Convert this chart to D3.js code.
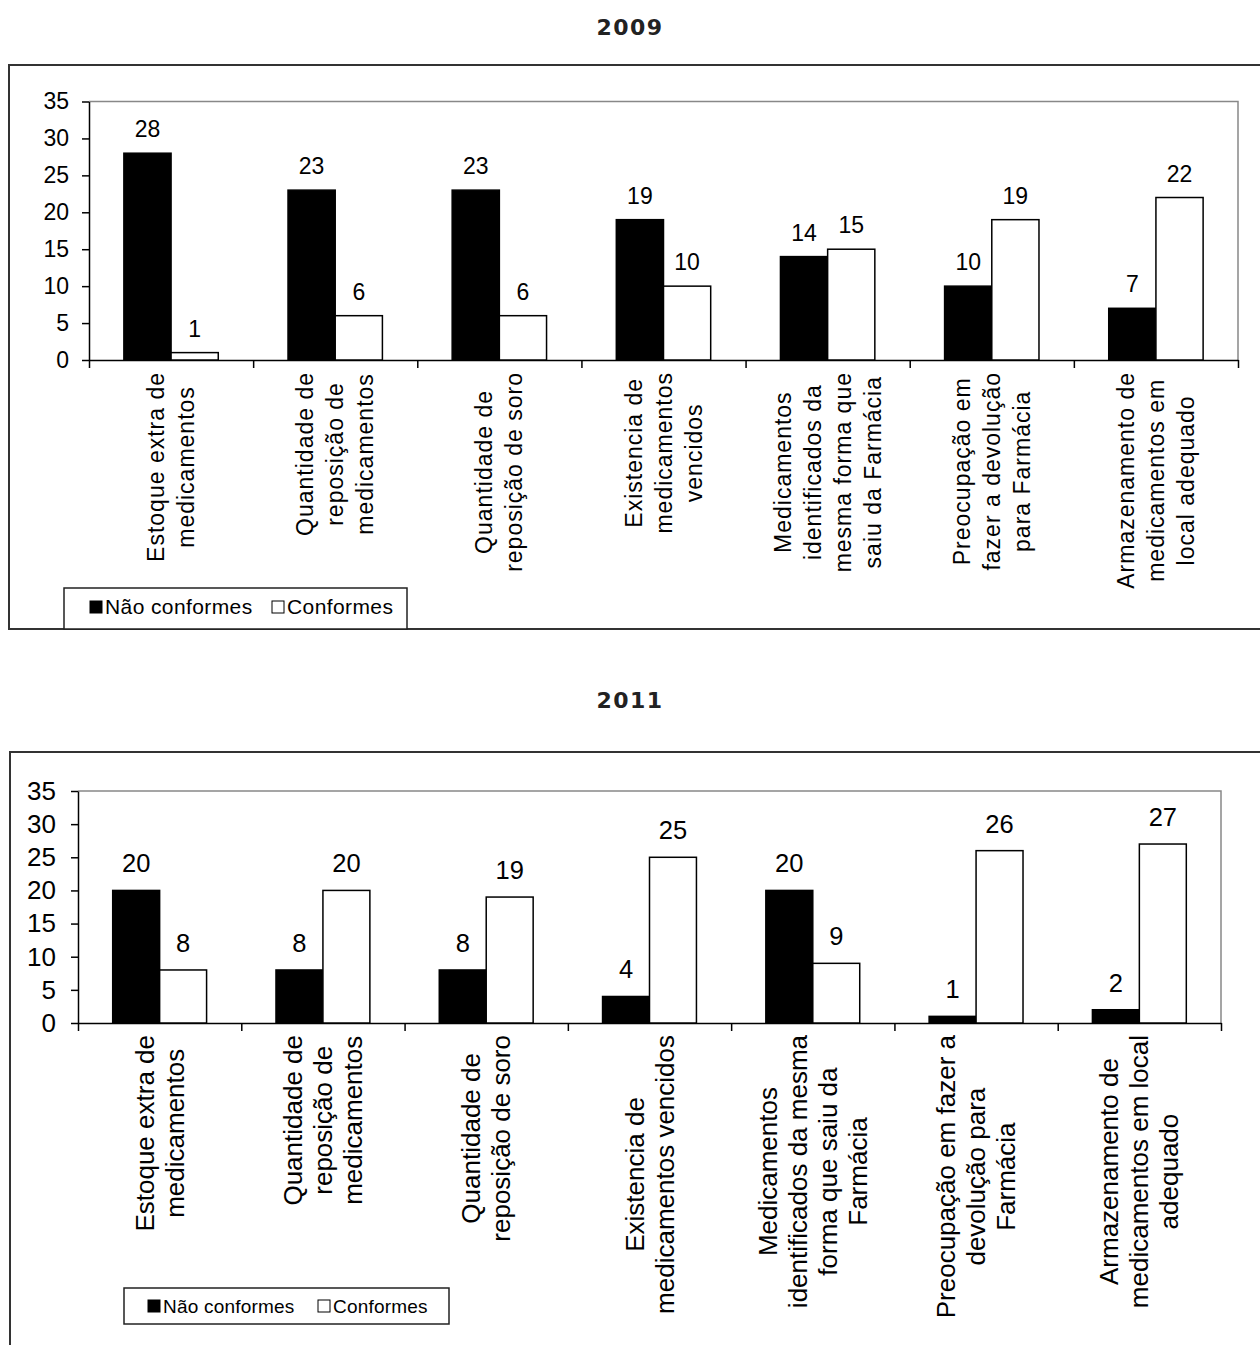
<!DOCTYPE html>
<html>
<head>
<meta charset="utf-8">
<script src="https://cdn.jsdelivr.net/npm/d3@7"></script>
<style>
  body { margin: 0; background: #fff; }
  svg { display: block; }
</style>
</head>
<body>
<div id="chart"></div>
<script>
// data
const seriesNames = ["Não conformes", "Conformes"];
const yTicks = [0, 5, 10, 15, 20, 25, 30, 35];

const categories2009 = [
    ["Estoque extra de", "medicamentos"],
    ["Quantidade de", "reposição de", "medicamentos"],
    ["Quantidade de", "reposição de soro"],
    ["Existencia de", "medicamentos", "vencidos"],
    ["Medicamentos", "identificados da", "mesma forma que", "saiu da Farmácia"],
    ["Preocupação em", "fazer a devolução", "para Farmácia"],
    ["Armazenamento  de", "medicamentos em", "local adequado"]
];
const naoConformes2009 = [28, 23, 23, 19, 14, 10, 7];
const conformes2009 = [1, 6, 6, 10, 15, 19, 22];

const categories2011 = [
    ["Estoque extra de", "medicamentos"],
    ["Quantidade de", "reposição de", "medicamentos"],
    ["Quantidade de", "reposição de soro"],
    ["Existencia de", "medicamentos vencidos"],
    ["Medicamentos", "identificados da mesma", "forma que saiu da", "Farmácia"],
    ["Preocupação em fazer a", "devolução para", "Farmácia"],
    ["Armazenamento de", "medicamentos em local", "adequado"]
];
const naoConformes2011 = [20, 8, 8, 4, 20, 1, 2];
const conformes2011 = [8, 20, 19, 25, 9, 26, 27];

const width = 1260;
const height = 1345;
const font = "'Liberation Sans', Arial, sans-serif";

const svg = d3.select("#chart")
    .append("svg")
    .attr("width", width)
    .attr("height", height);

function drawChart(cfg) {
    const g = svg.append("g");

    // title
    g.append("text")
        .attr("x", width / 2)
        .attr("y", cfg.titleY)
        .attr("text-anchor", "middle")
        .attr("font-family", "'DejaVu Sans', sans-serif")
        .attr("font-weight", "bold")
        .attr("font-size", "22px")
        .attr("letter-spacing", "1.5px")
        .attr("fill", "#222")
        .text(cfg.title);

    // outer frame
    g.append("rect")
        .attr("x", cfg.frame.x)
        .attr("y", cfg.frame.y)
        .attr("width", cfg.frame.w)
        .attr("height", cfg.frame.h)
        .attr("fill", "none")
        .attr("stroke", "#333")
        .attr("stroke-width", 2);

    const p = cfg.plot;
    const y = d3.scaleLinear().domain([0, 35]).range([p.bottom, p.top]);
    const x0 = d3.scaleBand()
        .domain(d3.range(cfg.categories.length))
        .range([p.left, p.right])
        .paddingInner(0.425)
        .paddingOuter(0.2125);
    const x1 = d3.scaleBand()
        .domain(seriesNames)
        .range([0, x0.bandwidth()]);
    const xEdge = d3.scaleLinear()
        .domain([0, cfg.categories.length])
        .range([p.left, p.right]);

    // plot area border (gray top and right)
    g.append("path")
        .attr("d", `M${p.left},${p.top}H${p.right}V${p.bottom}`)
        .attr("fill", "none")
        .attr("stroke", "#888")
        .attr("stroke-width", 1.5);

    // y axis
    const yAxis = g.append("g")
        .attr("transform", `translate(${p.left},0)`)
        .call(d3.axisLeft(y).tickValues(yTicks).tickSize(7).tickSizeOuter(0).tickPadding(cfg.tickPad));
    yAxis.selectAll("path, line").attr("stroke", "#000").attr("stroke-width", 1.5);
    yAxis.selectAll("text")
        .attr("font-family", font)
        .attr("font-size", cfg.tickFont + "px")
        .attr("fill", "#000");

    // x axis with ticks between categories
    const xAxis = g.append("g")
        .attr("transform", `translate(0,${p.bottom})`)
        .call(d3.axisBottom(xEdge).tickValues(d3.range(cfg.categories.length + 1)).tickSize(8).tickSizeOuter(0).tickFormat(""));
    xAxis.selectAll("path, line").attr("stroke", "#000").attr("stroke-width", 1.5);

    // bars
    const rows = cfg.categories.map((c, i) => ({
        i: i,
        values: [
            { key: seriesNames[0], value: cfg.nao[i] },
            { key: seriesNames[1], value: cfg.conf[i] }
        ]
    }));

    const groups = g.append("g")
        .selectAll("g")
        .data(rows)
        .join("g")
        .attr("transform", d => `translate(${x0(d.i)},0)`);

    groups.selectAll("rect")
        .data(d => d.values)
        .join("rect")
        .attr("x", d => x1(d.key))
        .attr("y", d => y(d.value))
        .attr("width", x1.bandwidth())
        .attr("height", d => y(0) - y(d.value))
        .attr("fill", d => d.key === seriesNames[0] ? "#000" : "#fff")
        .attr("stroke", "#000")
        .attr("stroke-width", 1.5);

    groups.selectAll("text")
        .data(d => d.values)
        .join("text")
        .attr("x", d => x1(d.key) + x1.bandwidth() / 2)
        .attr("y", d => y(d.value) - cfg.valueGap)
        .attr("text-anchor", "middle")
        .attr("font-family", font)
        .attr("font-size", cfg.valueFont + "px")
        .attr("fill", "#000")
        .text(d => d.value);

    // rotated category labels
    cfg.categories.forEach((lines, i) => {
        const cx = x0(i) + x0.bandwidth() / 2;
        const lg = g.append("g");
        const texts = lines.map(line => lg.append("text")
            .attr("font-family", font)
            .attr("font-size", cfg.catFont + "px")
            .attr("letter-spacing", cfg.catSpacing + "px")
            .attr("text-anchor", "middle")
            .attr("dominant-baseline", "central")
            .attr("fill", "#000")
            .text(line));
        const maxLen = d3.max(texts, t => t.node().getComputedTextLength());
        const cy = p.bottom + cfg.catGap + maxLen / 2;
        texts.forEach((t, j) => {
            const tx = cx + (j - (lines.length - 1) / 2) * cfg.lineH;
            t.attr("transform", `translate(${tx},${cy}) rotate(-90)`);
        });
    });

    // legend
    const L = cfg.legend;
    const lg = g.append("g").attr("transform", `translate(${L.x},${L.y})`);
    lg.append("rect")
        .attr("width", L.w)
        .attr("height", L.h)
        .attr("fill", "#fff")
        .attr("stroke", "#222")
        .attr("stroke-width", 1.5);
    seriesNames.forEach((name, k) => {
        const ix = L.items[k];
        lg.append("rect")
            .attr("x", ix)
            .attr("y", L.sqY)
            .attr("width", L.sq)
            .attr("height", L.sq)
            .attr("fill", k === 0 ? "#000" : "#fff")
            .attr("stroke", "#000")
            .attr("stroke-width", 1);
        lg.append("text")
            .attr("x", ix + L.sq + 3)
            .attr("y", L.textY)
            .attr("font-family", font)
            .attr("font-size", L.font + "px")
            .attr("letter-spacing", L.spacing + "px")
            .attr("fill", "#000")
            .text(name);
    });
}

drawChart({
    title: "2009",
    titleY: 35,
    frame: { x: 9, y: 65, w: 1300, h: 564 },
    plot: { left: 89, top: 101.5, right: 1238, bottom: 360 },
    categories: categories2009,
    nao: naoConformes2009,
    conf: conformes2009,
    tickFont: 23,
    tickPad: 13,
    valueFont: 23,
    valueGap: 16,
    catFont: 23,
    catSpacing: 1,
    catGap: 12,
    lineH: 30,
    legend: { x: 64, y: 588, w: 343, h: 41, items: [26, 208], sq: 12, sqY: 13, textY: 26, font: 21, spacing: 0.4 }
});

drawChart({
    title: "2011",
    titleY: 708,
    frame: { x: 10, y: 752, w: 1300, h: 700 },
    plot: { left: 78, top: 791, right: 1221, bottom: 1023 },
    categories: categories2011,
    nao: naoConformes2011,
    conf: conformes2011,
    tickFont: 26,
    tickPad: 15,
    valueFont: 25.5,
    valueGap: 18,
    catFont: 26,
    catSpacing: 0,
    catGap: 12,
    lineH: 30,
    legend: { x: 124, y: 1288, w: 325, h: 36, items: [24, 194], sq: 12, sqY: 12, textY: 25, font: 19, spacing: 0.2 }
});
</script>
</body>
</html>
